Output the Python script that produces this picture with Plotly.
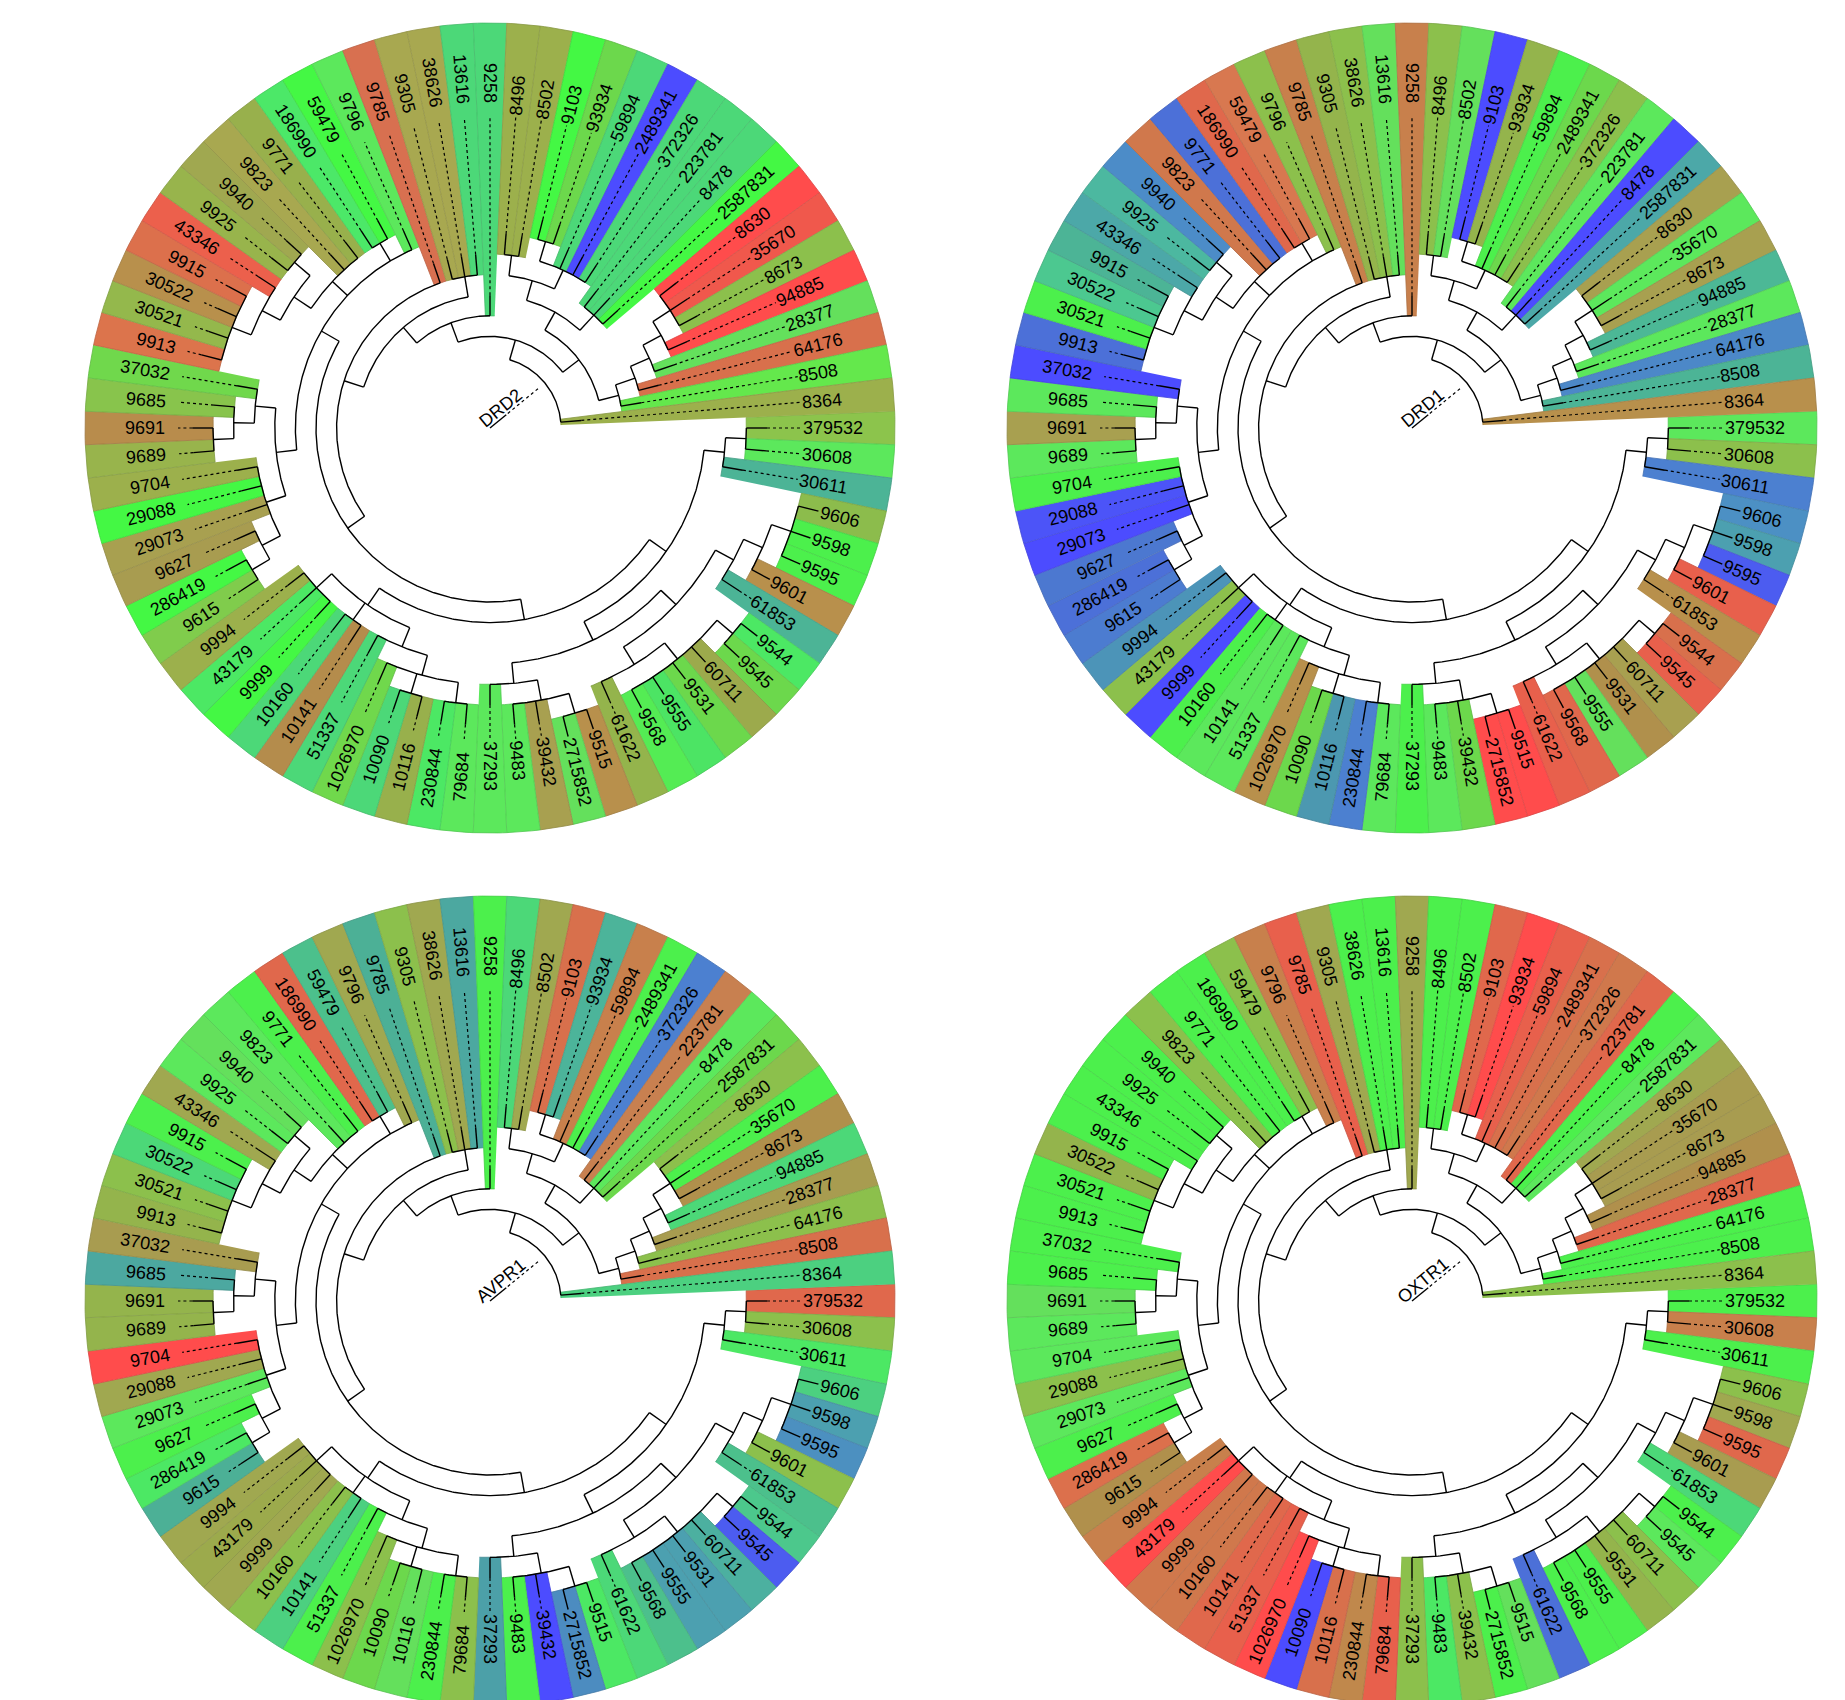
import math
import plotly.graph_objects as go

# ---------------- tree (NCBI taxon ids), children listed clockwise ----------------
HOMININAE = ["9606", "9598", "9595"]
HOMINIDAE = [HOMININAE, "9601"]
HOMINOIDEA = [HOMINIDAE, "61853"]
MACACA = ["9544", "9545"]
CERCOPITHECINAE = [MACACA, "60711", "9531", "9555", "9568"]
CERCOPITHECIDAE = [CERCOPITHECINAE, "61622"]
CATARRHINI = [HOMINOIDEA, CERCOPITHECIDAE]
CEBINAE = ["9515", "2715852"]
CEBIDAE = [CEBINAE, "39432", "9483"]
PLATYRRHINI = [CEBIDAE, "37293"]
SIMIIFORMES = [CATARRHINI, PLATYRRHINI]
LEMURIFORMES = ["379532", "30608"]
STREPSIRRHINI = [LEMURIFORMES, "30611"]
PRIMATES = [STREPSIRRHINI, SIMIIFORMES]
CRICETIDAE = ["79684", "230844"]
MURIDAE = ["10116", "10090"]
MUROIDEA = [CRICETIDAE, MURIDAE, "1026970"]
MYOMORPHA = [MUROIDEA, "51337"]
HYSTRICOMORPHA = ["10141", "10160"]
SCIURIDAE = ["9999", "43179", "9994"]
RODENTIA = [MYOMORPHA, HYSTRICOMORPHA, SCIURIDAE]
EUARCHONTOGLIRES = [PRIMATES, RODENTIA]
CANIS = ["9615", "286419"]
CANIDAE = [CANIS, "9627"]
CANIFORMIA = [CANIDAE, "29073", "29088", "9704"]
PANTHERA = ["9689", "9691"]
FELIDAE = [PANTHERA, "9685"]
FELIFORMIA = [FELIDAE, "37032"]
CARNIVORA = [CANIFORMIA, FELIFORMIA]
BOS = ["9913", "30521", "30522", "9915"]
BOVINAE = [BOS, "43346"]
CAPRINAE = ["9925", "9940"]
BOVIDAE = [BOVINAE, CAPRINAE]
ARTIODACTYLA = [BOVIDAE, "9823", "9771"]
CHIROPTERA = ["186990", "59479"]
LAURASIATHERIA = [CARNIVORA, ARTIODACTYLA, CHIROPTERA, "9796"]
BOREOEUTHERIA = [EUARCHONTOGLIRES, LAURASIATHERIA]
EUTHERIA = [BOREOEUTHERIA, "9785"]
METATHERIA = ["9305", "38626", "13616"]
THERIA = [EUTHERIA, METATHERIA]
MAMMALIA = [THERIA, "9258"]
CROCODYLIA = ["8496", "8502"]
GALLIFORMES = ["9103", "93934"]
AVES = [GALLIFORMES, "59894", "2489341", "372326"]
ARCHOSAURIA = [CROCODYLIA, AVES]
TESTUDINES = ["223781", "8478", "2587831"]
ARCHELOSAURIA = [ARCHOSAURIA, TESTUDINES]
SERPENTES = ["8630", "35670", "8673"]
TOXICOFERA = [SERPENTES, "94885"]
EPISQUAMATA = [TOXICOFERA, "28377"]
SQUAMATA = [EPISQUAMATA, "64176"]
LEPIDOSAURIA = [SQUAMATA, "8508"]
SAUROPSIDA = [ARCHELOSAURIA, LEPIDOSAURIA]
AMNIOTA = [MAMMALIA, SAUROPSIDA]
TETRAPODA = [AMNIOTA, "8364"]

PANEL_NAMES = ["DRD2", "DRD1", "AVPR1", "OXTR1"]

# leaf colours, clockwise from 379532 (same order as the tree leaves)
DRD2_COLORS = [
    "#8cc44c", "#5ce85c", "#4cb496", "#8cbc4c", "#4cf04c", "#4cf04c", "#b8904c", "#4cb496",
    "#4ce864", "#6cd84c", "#9caa4c", "#6cd84c", "#4ce464", "#54ec54", "#94b44c", "#b8904c",
    "#64e05c", "#a8a050", "#5ce85c", "#5ce85c", "#5ce85c", "#4ce864", "#98b04c", "#4cd878",
    "#70d84c", "#4cd878", "#b48c4c", "#4cd878", "#44f844", "#4ce864", "#9cb04c", "#80cc4c",
    "#44f844", "#a89c50", "#a8a050", "#44f844", "#9cb04c", "#98b44c", "#b88c4c", "#88c44c",
    "#70d84c", "#dc744c", "#94b84c", "#b8904c", "#dc704c", "#ec604c", "#98b44c", "#a0a850",
    "#a8a850", "#98b04c", "#4ce868", "#44f844", "#5ce85c", "#d87050", "#a8a850", "#a8a850",
    "#4cd878", "#4cd878", "#9cb04c", "#9cb04c", "#44f844", "#6cd84c", "#4cd878", "#4c4cff",
    "#4cd878", "#4cd878", "#4cd878", "#44f844", "#ff4c4c", "#f0584c", "#8cc04c", "#ff4c4c",
    "#64e05c", "#d8704c", "#64e84c", "#9cb04c",
]
DRD1_COLORS = [
    "#5ce85c", "#8cc04c", "#4c80d0", "#4c90c4", "#4ca0b0", "#4c5cf0", "#e8604c", "#b8904c",
    "#d8704c", "#e8604c", "#a8a050", "#b0904c", "#64e05c", "#e0684c", "#e8604c", "#ff4c4c",
    "#ff4c4c", "#6cd84c", "#5ce85c", "#4cf04c", "#5ce85c", "#4c80d0", "#4c98b0", "#6cd84c",
    "#b8904c", "#5ce85c", "#5ce85c", "#4cf04c", "#4c4cff", "#8cc04c", "#4c94b8", "#4c7cd0",
    "#4c70d8", "#4c78d0", "#4c4cff", "#4c54f8", "#4cf04c", "#5ce85c", "#a8a050", "#5ce85c",
    "#4c4cff", "#4c70d8", "#4cf04c", "#4cc890", "#4cb496", "#4ca8a8", "#4cb8a0", "#4c8cc8",
    "#d0784c", "#4c70d8", "#e0684c", "#d87850", "#8cc04c", "#c8804c", "#94b44c", "#8cc04c",
    "#64e05c", "#c8804c", "#8cc04c", "#64e05c", "#4c4cff", "#94b44c", "#4cf04c", "#6cd84c",
    "#8cc04c", "#5ce85c", "#4c4cff", "#4ca8a8", "#a8a050", "#5ce85c", "#a8a050", "#4cb896",
    "#5ce85c", "#4c88c8", "#4cb496", "#b8904c",
]
AVPR1_COLORS = [
    "#e0684c", "#8cc04c", "#4ce864", "#4cd080", "#4ca0b0", "#4c90c0", "#8cc04c", "#4cc08c",
    "#4cc88c", "#4c5cf0", "#4cb0a0", "#4ca0b0", "#4ca0b0", "#4cc08c", "#4cd878", "#4ce864",
    "#4c8cc0", "#4c4cff", "#4cf04c", "#4ca0a8", "#8cc04c", "#4cf04c", "#64e05c", "#6cd84c",
    "#8cc04c", "#4cf04c", "#4cd080", "#8cc04c", "#a0a850", "#9caa4c", "#a0a850", "#4cb096",
    "#4ce864", "#4cf04c", "#5ce85c", "#a0a850", "#ff4c4c", "#94b44c", "#94b44c", "#4ca8a0",
    "#a89c50", "#94b44c", "#8cc04c", "#4cd878", "#4cf04c", "#a0a850", "#5ce85c", "#64e05c",
    "#5ce85c", "#4cf04c", "#e0684c", "#4cc08c", "#a0a850", "#4cb096", "#8cc04c", "#a0a850",
    "#4ca8a0", "#4cf04c", "#4cd878", "#a0a850", "#d8704c", "#4cb49a", "#c8804c", "#4cf04c",
    "#4c80d0", "#c88050", "#5ce85c", "#6cd84c", "#8cc04c", "#4cf04c", "#b0904c", "#4cd878",
    "#a89c50", "#8cc04c", "#d8704c", "#4cd080",
]
OXTR1_COLORS = [
    "#4cf04c", "#c8804c", "#4cf04c", "#8cc04c", "#a0a850", "#e0684c", "#a89c50", "#4cd878",
    "#4cf04c", "#5ce85c", "#8cc04c", "#94b44c", "#4cf04c", "#4cf04c", "#4c70d8", "#64e05c",
    "#4cf04c", "#8cc04c", "#4ce864", "#8cc04c", "#e8604c", "#c0884c", "#d8704c", "#4c4cff",
    "#ff4c4c", "#e8604c", "#e0684c", "#d0784c", "#d0784c", "#ff4c4c", "#c8804c", "#b0904c",
    "#dc704c", "#4cf04c", "#5ce85c", "#8cc04c", "#5ce85c", "#5ce85c", "#64e05c", "#4cf04c",
    "#4cf04c", "#4cf04c", "#4cf04c", "#94b44c", "#4cf04c", "#4cf04c", "#4cf04c", "#4cf04c",
    "#8cc04c", "#4cf04c", "#4cf04c", "#8cc04c", "#c8804c", "#e8604c", "#a0a850", "#4cf04c",
    "#4cf04c", "#a0a850", "#4cf04c", "#4cf04c", "#e0684c", "#ff4c4c", "#e8604c", "#d8704c",
    "#d0784c", "#e0684c", "#4cf04c", "#5ce85c", "#a0a850", "#a89c50", "#a89c50", "#b0904c",
    "#e0684c", "#4cf04c", "#4cf04c", "#8cc04c",
]
PANEL_COLORS = [DRD2_COLORS, DRD1_COLORS, AVPR1_COLORS, OXTR1_COLORS]

# ---------------- geometry / style ----------------
W, H = 1845, 1700
PANEL_CENTERS = [(482, 420), (1404, 420), (482, 1293), (1404, 1293)]
R0, UNIT, R_OUT = 71.0, 20.6, 405.0
LABEL_R, LEFT_SHIFT, DOT_END = 313.0, 12.0, 312.0
FONT_SIZE = 18
CHAR_W = {"0": .556, "1": .556, "2": .556, "3": .556, "4": .556, "5": .556, "6": .556,
          "7": .556, "8": .556, "9": .556, "D": .722, "R": .722, "A": .667, "V": .667,
          "P": .667, "O": .778, "X": .667, "T": .611}

# ---------------- layout of the tree ----------------
leaves, edges, arcs = [], [], []


def walk(node, depth):
    if isinstance(node, str):
        leaves.append([node, None, depth])
        return len(leaves) - 1, True
    kids = [walk(ch, depth + 1) for ch in node]
    arcs.append([depth, kids[0], kids[-1]])
    idx = len(arcs) - 1
    for k in kids:
        edges.append([k, depth, depth + 1])
    return idx, False


walk(TETRAPODA, 0)
N_LEAVES = len(leaves)
STEP = 360.0 / N_LEAVES
for i, lf in enumerate(leaves):
    lf[1] = -i * STEP

arc_angle = {}


def angle_of(ref):
    idx, is_leaf = ref
    if is_leaf:
        return leaves[idx][1]
    if idx not in arc_angle:
        d, a, b = arcs[idx]
        arc_angle[idx] = 0.5 * (angle_of(a) + angle_of(b))
    return arc_angle[idx]


root_ref = (len(arcs) - 1, False)
ROOT_ANGLE = angle_of(root_ref)


def rad(d):
    return R0 + d * UNIT


def text_width(s):
    return sum(CHAR_W.get(c, .6) for c in s) * FONT_SIZE


def darker(hx, f=0.86):
    r, g, b = int(hx[1:3], 16), int(hx[3:5], 16), int(hx[5:7], 16)
    return "rgb(%d,%d,%d)" % (r * f, g * f, b * f)


fig = go.Figure()
annotations = []

for name, (cx, cy), colors in zip(PANEL_NAMES, PANEL_CENTERS, PANEL_COLORS):
    def P(r, a):
        t = math.radians(a)
        return cx + r * math.cos(t), cy - r * math.sin(t)

    # coloured leaf wedges
    for (leaf, ang, depth), col in zip(leaves, colors):
        r_in = rad(depth - 1)
        xs, ys = [], []
        n = 8
        for k in range(n + 1):
            x, y = P(R_OUT, ang - STEP / 2 + STEP * k / n)
            xs.append(x); ys.append(y)
        for k in range(n + 1):
            x, y = P(r_in, ang + STEP / 2 - STEP * k / n)
            xs.append(x); ys.append(y)
        fig.add_trace(go.Scatter(x=xs, y=ys, mode="lines", fill="toself", fillcolor=col,
                                 line=dict(color=darker(col), width=0.8),
                                 hoverinfo="text", text=leaf, showlegend=False))

    # solid branches
    lx, ly = [], []
    for ref, d0, d1 in edges:
        a = angle_of(ref)
        for r in (rad(d0), rad(d1)):
            x, y = P(r, a); lx.append(x); ly.append(y)
        lx.append(None); ly.append(None)
    for d, ra, rb in arcs:
        a1, a2 = angle_of(ra), angle_of(rb)
        n = max(2, int(abs(a2 - a1) / 0.5) + 1)
        for k in range(n + 1):
            x, y = P(rad(d), a1 + (a2 - a1) * k / n); lx.append(x); ly.append(y)
        lx.append(None); ly.append(None)
    # root stub
    for r in (0, 21):
        x, y = P(r, ROOT_ANGLE); lx.append(x); ly.append(y)
    lx.append(None); ly.append(None)
    fig.add_trace(go.Scatter(x=lx, y=ly, mode="lines", line=dict(color="black", width=1.4),
                             hoverinfo="skip", showlegend=False))

    # dotted connectors
    dx, dy = [], []
    for leaf, ang, depth in leaves:
        tip = rad(depth)
        if tip < DOT_END - 2:
            for r in (tip, DOT_END):
                x, y = P(r, ang); dx.append(x); dy.append(y)
            dx.append(None); dy.append(None)
    for r in (23, 63):
        x, y = P(r, ROOT_ANGLE); dx.append(x); dy.append(y)
    fig.add_trace(go.Scatter(x=dx, y=dy, mode="lines",
                             line=dict(color="black", width=1.2, dash="dot"),
                             hoverinfo="skip", showlegend=False))

    # leaf labels
    for leaf, ang, depth in leaves:
        tip = rad(depth)
        w = text_width(leaf)
        start = max(LABEL_R, tip + 2)
        am = ang % 360.0
        if 89.9 < am < 269.9:
            rc = start + LEFT_SHIFT + w / 2
            ta = 180 - ang
        else:
            rc = start + w / 2
            ta = -ang
        ta = (ta + 180) % 360 - 180
        x, y = P(rc, ang)
        annotations.append(dict(x=x, y=y, xref="x", yref="y", text=leaf, showarrow=False,
                                textangle=ta, xanchor="center", yanchor="middle",
                                font=dict(family="Arial", size=FONT_SIZE, color="black")))

    # root label
    w = text_width(name)
    t = math.radians(ROOT_ANGLE)
    along, perp = 21, 9
    x = cx + along * math.cos(t) - perp * math.sin(t)
    y = cy - (along * math.sin(t) + perp * math.cos(t))
    annotations.append(dict(x=x, y=y, xref="x", yref="y", text=name, showarrow=False,
                            textangle=-ROOT_ANGLE, xanchor="center", yanchor="middle",
                            font=dict(family="Arial", size=FONT_SIZE, color="black")))

fig.update_layout(
    width=W, height=H, margin=dict(l=0, r=0, t=0, b=0),
    paper_bgcolor="white", plot_bgcolor="white", showlegend=False,
    xaxis=dict(range=[0, W], visible=False, fixedrange=True),
    yaxis=dict(range=[H, 0], visible=False, fixedrange=True),
    annotations=annotations,
)
fig.write_html("out.html")
